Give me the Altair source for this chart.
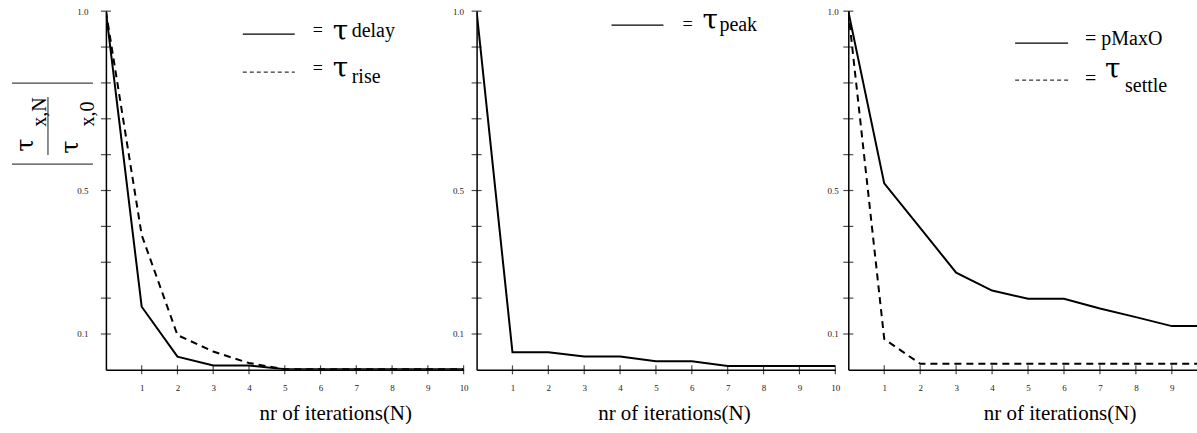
import altair as alt
import pandas as pd

# ---------------- data ----------------
iters = [0, 1, 2, 3, 4, 5, 6, 7, 8, 9, 10]
tau_delay = [1.0, 0.176, 0.037, 0.012, 0.012, 0.002, 0.002, 0.002, 0.002, 0.002, 0.002]
tau_rise = [1.0, 0.376, 0.097, 0.051, 0.019, 0.002, 0.002, 0.002, 0.002, 0.002, 0.002]
tau_peak = [1.0, 0.049, 0.049, 0.037, 0.037, 0.024, 0.024, 0.011, 0.011, 0.011, 0.011]
p_max_o = [1.0, 0.52, 0.396, 0.271, 0.221, 0.198, 0.198, 0.171, 0.147, 0.122, 0.122]
tau_settle = [1.0, 0.086, 0.017, 0.017, 0.017, 0.017, 0.017, 0.017, 0.017, 0.017, 0.017]

y_ticks = [0.1, 0.2, 0.3, 0.4, 0.5, 0.6, 0.7, 0.8, 0.9, 1.0]
x_ticks_full = [1, 2, 3, 4, 5, 6, 7, 8, 9, 10]
x_ticks_cut = [1, 2, 3, 4, 5, 6, 7, 8, 9]
x_title = "nr of iterations(N)"

FONT = "Liberation Serif"
TAU_FONT = "DejaVu Serif"
H = 359


def series_df(values):
    return pd.DataFrame({"N": iters, "v": values})


def y_axis(pad):
    return alt.Axis(
        values=y_ticks, ticks=False, tickSize=0, grid=False, title="",
        labelExpr="datum.value > 0.95 ? '1.0' : (abs(datum.value - 0.5) < 0.01 ? '0.5' : (abs(datum.value - 0.1) < 0.01 ? '0.1' : ''))",
        labelFont=FONT, labelFontSize=9, labelColor="#222", labelPadding=pad,
        labelOverlap=False, labelFlush=False, labelBound=False,
        domainColor="black", domainWidth=1.5,
    )


def x_axis(vals):
    return alt.Axis(
        values=vals, ticks=False, tickSize=0, grid=False, title="",
        labelFont=FONT, labelFontSize=9, labelColor="#222", labelPadding=14,
        labelOverlap=False, labelFlush=False, labelBound=False,
        domainColor="black", domainWidth=1.5,
    )


def enc(dom, ypad, xvals):
    return dict(
        x=alt.X("N:Q", scale=alt.Scale(domain=dom, nice=False, zero=False), axis=x_axis(xvals)),
        y=alt.Y("v:Q", scale=alt.Scale(domain=[0, 1], nice=False), axis=y_axis(ypad)),
    )


def line(values, dom, ypad, xvals, dashed=False):
    kw = dict(color="black", strokeWidth=2, clip=True)
    if dashed:
        kw["strokeDash"] = [7, 5]
    return alt.Chart(series_df(values)).mark_line(**kw).encode(**enc(dom, ypad, xvals))


def tick_layers(dom, ypad, xvals):
    xt = alt.Chart(pd.DataFrame({"N": xvals, "v": [0] * len(xvals)})).mark_tick(
        orient="vertical", color="black", size=9, thickness=1.2
    ).encode(**enc(dom, ypad, xvals))
    yt = alt.Chart(pd.DataFrame({"N": [0] * len(y_ticks), "v": y_ticks})).mark_tick(
        orient="horizontal", color="black", size=10, thickness=1.2
    ).encode(**enc(dom, ypad, xvals))
    return [xt, yt]


def txt(text, x, y, size, align="left", angle=0, color="black", font=FONT):
    kw = dict(text=text, font=font, fontSize=size, align=align, baseline="alphabetic", color=color)
    if angle:
        kw["angle"] = angle
    return alt.Chart(pd.DataFrame({"k": [0]})).mark_text(**kw).encode(
        x=alt.value(x), y=alt.value(y)
    )


def tau(x, y, size, align="left", angle=0):
    return txt("τ", x, y, size, align=align, angle=angle, font=TAU_FONT)


def rule(x1, x2, y1, y2, dashed=False, width=1.2, color="black"):
    kw = dict(color=color, strokeWidth=width)
    if dashed:
        kw["strokeDash"] = [4, 3]
    return alt.Chart(pd.DataFrame({"k": [0]})).mark_rule(**kw).encode(
        x=alt.value(x1), x2=alt.value(x2), y=alt.value(y1), y2=alt.value(y2)
    )


# ---------------- panel 1 (origin 105, 11) ----------------
W1 = 358
D1 = [0, 10]
p1 = alt.layer(
    line(tau_delay, D1, 18, x_ticks_full),
    line(tau_rise, D1, 18, x_ticks_full, dashed=True),
    *tick_layers(D1, 18, x_ticks_full),
    # legend
    rule(137, 189, 23, 23),
    txt("=", 207, 25, 18),
    tau(227, 29, 28),
    txt("delay", 246, 26, 20),
    rule(137, 189, 61, 61, dashed=True, width=1),
    txt("=", 207, 63, 18),
    tau(227, 66, 28),
    txt("rise", 246, 72, 20),
    # y title: |tau_{x,N} / tau_{x,0}|
    rule(-94, -13, 72, 72, color="#444"),
    rule(-94, -13, 153, 153, color="#444"),
    rule(-58, -58, 86, 144, color="#444"),
    tau(-73, 134, 24, align="center", angle=270),
    txt("x,N", -60, 101, 20, align="center", angle=270),
    tau(-28, 136, 24, align="center", angle=270),
    txt("x,0", -12, 103, 20, align="center", angle=270),
    # x title
    txt(x_title, 230, 409, 21, align="center"),
).properties(width=W1, height=H)

# ---------------- panel 2 (origin 476, 11) ----------------
W2 = 359
D2 = [0, 10]
p2 = alt.layer(
    line(tau_peak, D2, 13, x_ticks_full),
    *tick_layers(D2, 13, x_ticks_full),
    rule(135, 187, 14, 14),
    txt("=", 206, 19, 18),
    tau(226, 18, 28),
    txt("peak", 243, 20, 20),
    txt(x_title, 198, 409, 21, align="center"),
).properties(width=W2, height=H)

# ---------------- panel 3 (origin 848, 11) ----------------
W3 = 349
D3 = [0, 9.7]
p3 = alt.layer(
    line(p_max_o, D3, 10, x_ticks_cut),
    line(tau_settle, D3, 10, x_ticks_cut, dashed=True),
    *tick_layers(D3, 10, x_ticks_cut),
    rule(167, 220, 32, 32),
    txt("= pMaxO", 237, 34, 20),
    rule(167, 220, 69, 69, dashed=True, width=1),
    txt("=", 237, 74, 20),
    tau(257, 67, 28),
    txt("settle", 277, 81, 20),
    txt(x_title, 212, 409, 21, align="center"),
).properties(width=W3, height=H)

chart = alt.hconcat(p1, p2, p3, spacing=13, bounds="flush").properties(
    padding={"left": 11, "top": 7, "right": 0, "bottom": 0}
).configure(background="white").configure_view(strokeWidth=0, stroke="transparent")

chart.save("out.html", embed_options={"renderer": "svg", "actions": False})
